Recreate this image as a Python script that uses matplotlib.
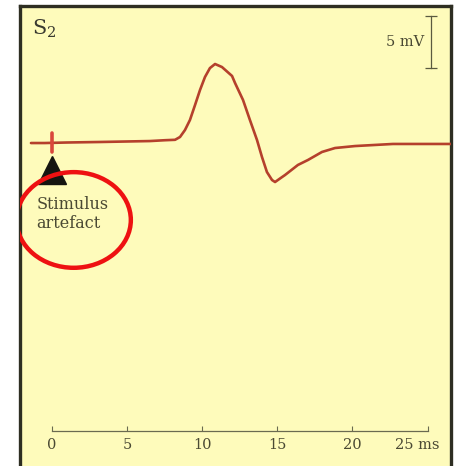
import matplotlib
matplotlib.use("Agg")
import matplotlib.pyplot as plt
from matplotlib.patches import Ellipse
import matplotlib.transforms as mtransforms

# ---- data (time in ms, potential in mV) ----
trace_t = [-1.38, -0.47, 1.0, 3.21, 6.53, 7.53, 8.20, 8.53, 8.86, 9.19, 9.53, 9.86,
           10.19, 10.52, 10.86, 11.32, 11.99, 12.19, 12.72, 13.18, 13.65, 13.98,
           14.31, 14.65, 14.85, 15.32, 15.51, 16.37, 17.04, 17.97, 18.84, 20.17,
           22.69, 26.60]
trace_v = [-0.05, -0.05, 0.0, 0.05, 0.14, 0.22, 0.26, 0.53, 1.20, 2.16, 3.61, 5.05,
           6.30, 7.16, 7.55, 7.26, 6.40, 5.72, 4.09, 2.16, 0.24, -1.39,
           -2.84, -3.61, -3.80, -3.32, -3.13, -2.16, -1.68, -0.91, -0.53, -0.34,
           -0.14, -0.14]
artefact_t = [0.0, 0.0]
artefact_v = [0.95, -0.95]
time_ticks = [0, 5, 10, 15, 20, 25]
time_labels = ["0", "5", "10", "15", "20", "25 ms"]
scale_bar_mv = 5
scale_bar_t = 25.2
scale_bar_top = 12.16

W, H = 459, 466
fig = plt.figure(figsize=(W / 100, H / 100), dpi=100)
fig.patch.set_facecolor("white")
plt.rcParams["mathtext.fontset"] = "dejavuserif"

bg = "#fefbbb"
frame_col = "#2e2e22"
text_col = "#4a4933"
trace_col = "#b5402c"

x0, x1 = -2.11, 26.55
ytop, ybot = 13.13, -31.5
ax = fig.add_axes([20 / W, (H - 470) / H, 431 / W, 464 / H])
ax.set_facecolor(bg)
ax.set_xlim(x0, x1)
ax.set_ylim(ybot, ytop)
ax.set_xticks([])
ax.set_yticks([])
for s in ["left", "right", "top"]:
    ax.spines[s].set_color(frame_col)
    ax.spines[s].set_linewidth(2.4)
ax.spines["bottom"].set_visible(False)

# trace
ax.plot(trace_t, trace_v, color=trace_col, lw=1.9, solid_joinstyle="round",
        solid_capstyle="round", zorder=3)
ax.plot(artefact_t, artefact_v, color="#d9473c", lw=2.6, solid_capstyle="round", zorder=3)

# stimulus marker
ax.plot([0], [-2.6], marker="^", markersize=20, color="#151510", zorder=4)

# annotation text
ax.text(-1.0, -6.0, "Stimulus", family="DejaVu Serif", fontsize=11.5, color=text_col,
        ha="left", va="center", zorder=5)
ax.text(-1.0, -7.75, "artefact", family="DejaVu Serif", fontsize=11.5, color=text_col,
        ha="left", va="center", zorder=5)

# red circle
ax.add_patch(Ellipse((1.46, -7.45), 7.6, 9.2, fill=False, edgecolor="#ee1111",
                     lw=3.2, zorder=6))

# S2 label
ax.text(-1.33, 10.4, r"$\mathrm{S}_{2}$", fontsize=15, color="#3a3a30",
        ha="left", va="baseline")

# scale bar
ax.plot([scale_bar_t, scale_bar_t], [scale_bar_top, scale_bar_top - scale_bar_mv],
        color="#5a5a40", lw=0.9)
ax.plot([scale_bar_t, scale_bar_t], [scale_bar_top, scale_bar_top - scale_bar_mv],
        ls="none", marker="_", markersize=8.5, mew=0.9, color="#5a5a40")
ax.text(24.75, scale_bar_top - scale_bar_mv / 2, f"{scale_bar_mv} mV",
        family="DejaVu Serif", fontsize=10.5, color=text_col, ha="right", va="center")

# time axis
axt = fig.add_axes([20 / W, (H - 431) / H, 431 / W, 10 / H])
axt.patch.set_visible(False)
axt.set_xlim(x0, x1)
axt.set_yticks([])
for s in ["left", "right", "top"]:
    axt.spines[s].set_visible(False)
axt.spines["bottom"].set_color("#6a6a50")
axt.spines["bottom"].set_linewidth(0.9)
axt.spines["bottom"].set_bounds(0, 25)
axt.set_xticks(time_ticks)
axt.set_xticklabels(time_labels, family="DejaVu Serif", fontsize=10.5, color=text_col)
axt.tick_params(axis="x", direction="in", length=3.5, width=0.8, color="#6a6a50", pad=5)
lab = axt.get_xticklabels()[-1]
lab.set_transform(lab.get_transform() + mtransforms.ScaledTranslation(-10 / 100, 0, fig.dpi_scale_trans))

fig.savefig("out.png", dpi=100, facecolor="white")
